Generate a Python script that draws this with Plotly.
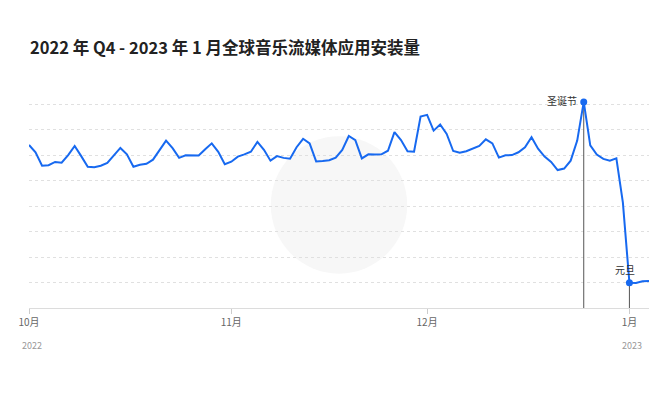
import pandas as pd
import plotly.graph_objects as go

title = "2022 年 Q4 - 2023 年 1 月全球音乐流媒体应用安装量"
start_date = "2022-10-01"
installs = [
    6.41, 6.12, 5.59, 5.61, 5.74, 5.71, 6.01, 6.37, 5.97, 5.55,
    5.53, 5.59, 5.70, 6.00, 6.29, 6.04, 5.55, 5.63, 5.67, 5.83,
    6.21, 6.58, 6.28, 5.90, 6.00, 5.99, 5.99, 6.24, 6.47, 6.14,
    5.65, 5.75, 5.95, 6.04, 6.14, 6.53, 6.22, 5.79, 5.97, 5.90,
    5.87, 6.32, 6.65, 6.47, 5.76, 5.78, 5.81, 5.91, 6.21, 6.76,
    6.60, 5.88, 6.04, 6.03, 6.04, 6.18, 6.91, 6.60, 6.16, 6.14,
    7.52, 7.59, 6.97, 7.21, 6.84, 6.17, 6.10, 6.16, 6.25, 6.37,
    6.63, 6.47, 5.91, 6.00, 6.01, 6.12, 6.32, 6.71, 6.26, 5.95,
    5.74, 5.42, 5.48, 5.79, 6.58, 8.10, 6.39, 6.03, 5.86, 5.79,
    5.88, 4.14, 0.99, 0.98, 1.05, 1.06,
]
dates = pd.date_range(start_date, periods=len(installs), freq="D")

tick_dates = ["2022-10-01", "2022-11-01", "2022-12-01", "2023-01-01"]
tick_labels = ["10月", "11月", "12月", "1月"]
year_dates = ["2022-10-01", "2023-01-01"]
year_labels = ["2022", "2023"]

event_dates = ["2022-12-25", "2023-01-01"]
event_labels = ["圣诞节", "元旦"]

FONT = "Noto Sans CJK SC"
BLUE = "#1769F0"

s = pd.Series(installs, index=dates)
event_vals = [float(s[pd.Timestamp(d)]) for d in event_dates]

fig = go.Figure()

# vertical marker lines
for d, v in zip(event_dates, event_vals):
    fig.add_trace(go.Scatter(
        x=[d, d], y=[0, v], mode="lines",
        line=dict(color="#555555", width=1), hoverinfo="skip", showlegend=False,
    ))

fig.add_trace(go.Scatter(
    x=dates, y=installs, mode="lines",
    line=dict(color=BLUE, width=2), showlegend=False,
))

fig.add_trace(go.Scatter(
    x=event_dates, y=event_vals, mode="markers",
    marker=dict(color=BLUE, size=7), showlegend=False,
))

# faint watermark circle
fig.add_shape(type="circle", xref="paper", yref="paper",
              x0=0.39, x1=0.61, y0=0.15, y1=0.75,
              fillcolor="#f7f7f7", line=dict(width=0), layer="below")

fig.add_annotation(x=event_dates[0], y=event_vals[0], text=event_labels[0],
                   showarrow=False, xanchor="right", yanchor="middle", xshift=-5, yshift=1,
                   font=dict(family=FONT, size=10, color="#333333"))
fig.add_annotation(x=event_dates[1], y=event_vals[1], text=event_labels[1],
                   showarrow=False, xanchor="center", yanchor="bottom", xshift=-4, yshift=4,
                   font=dict(family=FONT, size=10, color="#333333"))

for d, t in zip(year_dates, year_labels):
    fig.add_annotation(x=d, y=-0.165, xref="x", yref="paper", text=t, showarrow=False,
                       xanchor="center", yanchor="middle", xshift=3,
                       font=dict(family=FONT, size=9, color="#999999"))

fig.update_layout(
    width=662, height=398,
    margin=dict(l=29, r=13, t=79, b=90),
    paper_bgcolor="white", plot_bgcolor="white",
    title=dict(text=title, x=30 / 662, xanchor="left", y=1 - 48 / 398, yanchor="middle",
               font=dict(family=FONT, size=16.5, color="#222222", weight="bold")),
    xaxis=dict(
        type="date",
        range=[start_date, dates[-1]],
        tickvals=tick_dates, ticktext=tick_labels,
        showgrid=False, showline=True, linecolor="#dcdcdc", linewidth=1,
        ticks="outside", ticklen=5, tickcolor="#cccccc",
        tickfont=dict(family=FONT, size=10, color="#666666"),
        zeroline=False,
    ),
    yaxis=dict(
        range=[0, 9], dtick=1, showticklabels=False,
        showgrid=True, gridcolor="#e0e0e0", griddash="dot", gridwidth=1,
        zeroline=False, showline=False,
    ),
)

fig.write_html("out.html")
